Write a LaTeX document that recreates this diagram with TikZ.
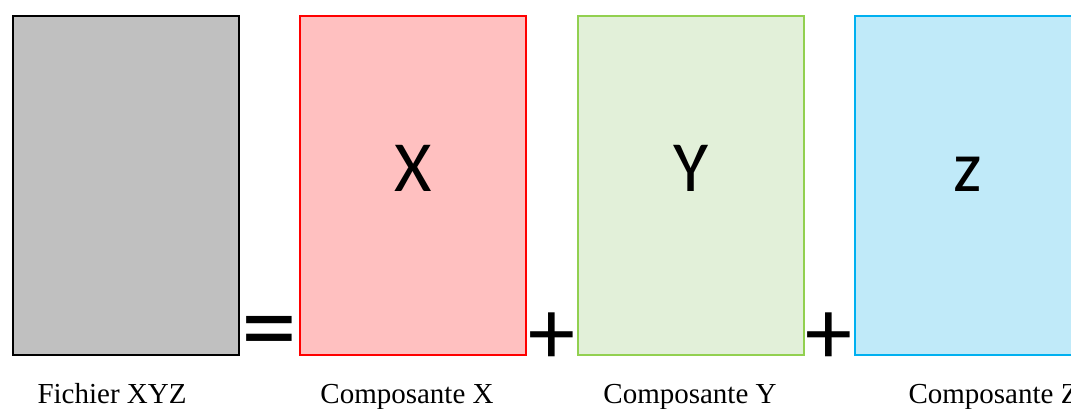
\documentclass[tikz,border=0pt]{standalone}
\usepackage{fontspec}
\setmainfont{Liberation Serif}
\newfontfamily\letterfont{Carlito}
\definecolor{grayfill}{HTML}{C0C0C0}
\definecolor{redfill}{HTML}{FFC0C0}
\definecolor{redline}{HTML}{FF0000}
\definecolor{greenfill}{HTML}{E2F0D9}
\definecolor{greenline}{HTML}{92D050}
\definecolor{bluefill}{HTML}{C0EAF9}
\definecolor{blueline}{HTML}{00B0F0}
\tikzset{
  compbox/.style={minimum width=226pt, minimum height=339pt, line width=2.2pt, inner sep=0pt, anchor=north west},
  letter/.style={font=\letterfont\fontsize{72}{72}\selectfont, inner sep=0pt},
  caption/.style={font=\fontsize{29}{29}\selectfont, anchor=base},
  op/.style={font=\letterfont\fontsize{94}{94}\selectfont, inner sep=0pt},
}
\begin{document}
\begin{tikzpicture}[x=1pt,y=-1pt]
\useasboundingbox (0,0) rectangle (1071,408);
\node[compbox, draw=black, fill=grayfill] (g) at (12,15) {};
\node[compbox, draw=redline, fill=redfill] (r) at (299,15) {};
\node[compbox, draw=greenline, fill=greenfill] (gr) at (577,15) {};
\node[compbox, draw=blueline, fill=bluefill] (b) at (854,15) {};
\node[letter, anchor=base] (lx) at ([yshift=-6pt]r.center) {X};
\node[letter, anchor=base] (ly) at ([yshift=-6pt]gr.center) {Y};
\node[letter, anchor=base] (lz) at ([yshift=-6pt]b.center) {z};
\node[caption] (lg) at (112,403) {Fichier XYZ};
\node[caption] (lr) at (407,403) {Composante X};
\node[caption] (lgr) at (690,403) {Composante Y};
\node[caption, anchor=base west] (lb) at (905,403) {Composante Z};
\node[op, font=\letterfont\fontsize{112}{112}\selectfont] (eq) at (269,340) {=};
\node[op] (p1) at (552,339) {+};
\node[op] (p2) at (829,339) {+};
\end{tikzpicture}
\end{document}
